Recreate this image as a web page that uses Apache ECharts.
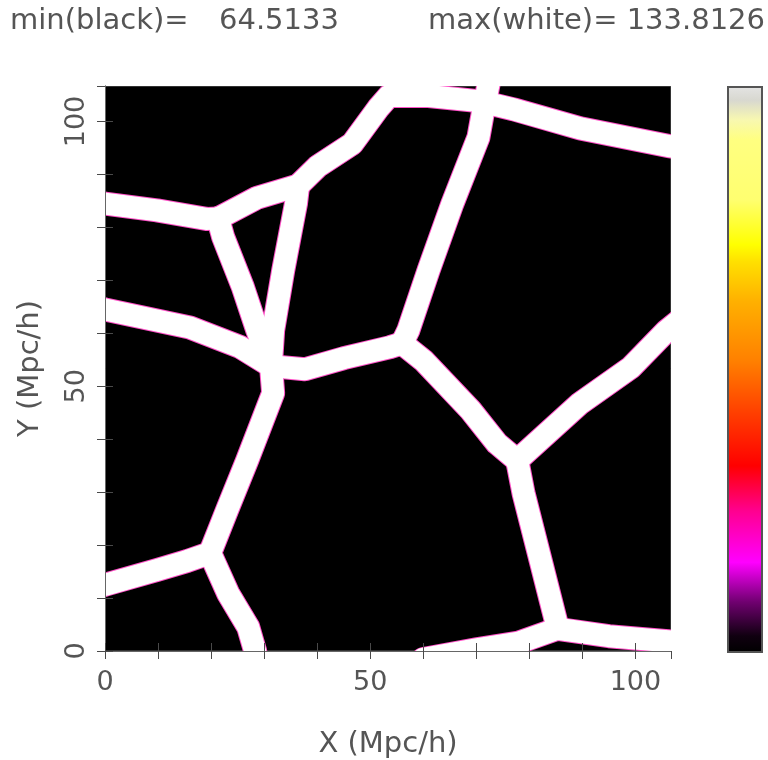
<!DOCTYPE html>
<html>
<head>
<meta charset="utf-8">
<script src="https://cdn.jsdelivr.net/npm/echarts@6/dist/echarts.min.js"></script>
<style>
html,body{margin:0;padding:0;background:#fff;}
#chart{width:768px;height:760px;}
</style>
</head>
<body>
<div id="chart"></div>
<script>
// ---- data ----
const minValue = 64.5133;
const maxValue = 133.8126;
const boxSize = 106.7;
const tickLabels = [0, 50, 100];

// filaments (polylines in Mpc/h)
const filTopLeft   = [[-2, 84.7], [0, 84.5], [9.8, 83.2], [19.1, 81.6], [21.3, 81.7]];
const filAtoB      = [[21.3, 81.7], [28.7, 85.6], [36.4, 87.9]];
const filBtoTop    = [[36.4, 87.9], [40.2, 91.6], [46.6, 95.8], [51.5, 102.5], [53.5, 104.8], [61, 104.8], [70.8, 103.8]];
const filCtoRight  = [[70.8, 103.8], [77, 102.3], [89.6, 98.7], [106.6, 95.3], [109, 94.9]];
const filCtoD      = [[72.5, 108], [71.3, 102], [70.4, 97], [65.5, 84.5], [61, 71.9], [57.2, 60.6], [56, 58.1]];
const filAtoE      = [[21.3, 81.7], [22.3, 78.1], [26, 68.7], [28.7, 60.6], [30.6, 55.5]];
const filBtoE      = [[36.4, 87.9], [36, 84.5], [33.6, 71.9], [31.7, 60.6], [31.3, 54.5]];
const filLeftToE   = [[-2, 65], [0, 64.5], [16, 61.1], [25.5, 57.4], [31.3, 53.8]];
const filEtoD      = [[31.3, 53.8], [37.7, 53.2], [45, 55.3], [53.8, 57.4], [56, 58.1]];
const filEtoF      = [[31.3, 53.8], [31.7, 48.7], [26.8, 36], [23, 26.6], [19.8, 18.5]];
const filLeftToF   = [[-2, 12], [0, 12.5], [9.8, 15.3], [15.5, 17], [19.8, 18.5]];
const filFtoBottom = [[19.8, 18.5], [23.2, 10.9], [27, 4.5], [28.3, 0], [28.6, -2]];
const filDtoG      = [[56, 58.1], [60, 54.9], [68.9, 45.5], [73.9, 39.2], [77.7, 36]];
const filGtoRight  = [[77.7, 36], [89.6, 46.8], [99.2, 53.6], [105.8, 60.4], [108.5, 62.6]];
const filGtoH      = [[77.7, 36], [78.9, 29.8], [82.1, 17.2], [84.5, 7.7], [85.3, 4.5]];
const filBottom    = [[60, -1.5], [70, 0.3], [78, 1.6], [85.3, 4.2], [95, 2.8], [106.7, 1.8], [109, 1.6]];

const filaments = [filTopLeft, filAtoB, filBtoTop, filCtoRight, filCtoD, filAtoE, filBtoE,
  filLeftToE, filEtoD, filEtoF, filLeftToF, filFtoBottom, filDtoG, filGtoRight, filGtoH, filBottom];

// colour bar (fraction from top, colour)
const colorbarStops = [
  [0.00, '#e4e4e4'], [0.025, '#d8d8d0'], [0.06, '#f8f8b0'], [0.095, '#ffff80'],
  [0.20, '#ffff70'], [0.28, '#ffff00'], [0.31, '#ffe000'], [0.38, '#ffb000'],
  [0.485, '#ff8000'], [0.575, '#ff4000'], [0.67, '#ff0000'], [0.75, '#ff0090'],
  [0.84, '#ff00ff'], [0.91, '#700070'], [0.97, '#100010'], [1.00, '#000000']
];

// ---- chart ----
const chart = echarts.init(document.getElementById('chart'), null, {renderer: 'canvas'});
const FONT = 'DejaVu Sans';
const TXT = '#555';
const G = {left: 105, top: 86, width: 566, height: 565};

function axisCommon(extra) {
  return Object.assign({
    type: 'value', min: 0, max: boxSize, interval: 10, z: 5,
    splitLine: {show: false},
    axisLine: {show: true, lineStyle: {color: '#666', width: 1}},
    axisTick: {show: true, inside: true, length: 8, lineStyle: {color: '#4a4a4a'}},
  }, extra);
}
const labelFmt = v => (tickLabels.indexOf(v) >= 0 ? String(v) : '');

const series = [];
filaments.forEach(f => {
  series.push({
    type: 'line', data: f, showSymbol: false, symbol: 'none', silent: true, z: 1,
    lineStyle: {color: '#ff50c8', width: 24, cap: 'round', join: 'round'},
    animation: false
  });
});
filaments.forEach(f => {
  series.push({
    type: 'line', data: f, showSymbol: false, symbol: 'none', silent: true, z: 2,
    lineStyle: {color: '#ffffff', width: 22, cap: 'round', join: 'round'},
    animation: false
  });
});

const titleStyle = {fontFamily: FONT, fontSize: 29, fontWeight: 'normal', color: TXT};
const R = G.left + G.width, B = G.top + G.height;
const masks = [
  [0, 0, 768, G.top],
  [0, B, 768, 760 - B],
  [0, 0, G.left, 760],
  [R, 0, 727 - R, 760]
].map(m => ({type: 'rect', z: 3, silent: true, shape: {x: m[0], y: m[1], width: m[2], height: m[3]}, style: {fill: '#ffffff'}}));

const option = {
  animation: false,
  backgroundColor: '#ffffff',
  title: [
    {text: 'min(black)=', left: 10, top: 7, padding: 0, textStyle: titleStyle},
    {text: String(minValue), left: 219, top: 7, padding: 0, textStyle: titleStyle},
    {text: 'max(white)=', left: 428, top: 7, padding: 0, textStyle: titleStyle},
    {text: String(maxValue), right: 3, top: 7, padding: 0, textStyle: titleStyle}
  ],
  grid: Object.assign({show: true, containLabel: false, outerBoundsMode: 'none',
    backgroundColor: '#000000', borderColor: '#666', borderWidth: 1}, G),
  xAxis: [
    axisCommon({position: 'bottom', name: 'X (Mpc/h)', nameLocation: 'middle', nameGap: 79,
      nameTextStyle: {fontFamily: FONT, fontSize: 29, color: TXT},
      axisLabel: {formatter: labelFmt, margin: 18, fontFamily: FONT, fontSize: 27, color: TXT, showMaxLabel: false}}),
    axisCommon({position: 'top', axisLabel: {show: false}})
  ],
  yAxis: [
    axisCommon({position: 'left', name: 'Y (Mpc/h)', nameLocation: 'middle', nameGap: 60, nameRotate: 90,
      nameTextStyle: {fontFamily: FONT, fontSize: 29, color: TXT},
      axisLabel: {formatter: labelFmt, margin: 15, rotate: 90, fontFamily: FONT, fontSize: 27, color: TXT, showMaxLabel: false}}),
    axisCommon({position: 'right', axisLabel: {show: false}})
  ],
  series: series,
  graphic: masks.concat([{
    type: 'rect', left: 727, top: 86, z: 10,
    shape: {x: 0, y: 0, width: 34, height: 565},
    style: {
      fill: new echarts.graphic.LinearGradient(0, 0, 0, 1, colorbarStops.map(s => ({offset: s[0], color: s[1]}))),
      stroke: '#555', lineWidth: 2
    }
  }])
};
chart.setOption(option);
</script>
</body>
</html>
